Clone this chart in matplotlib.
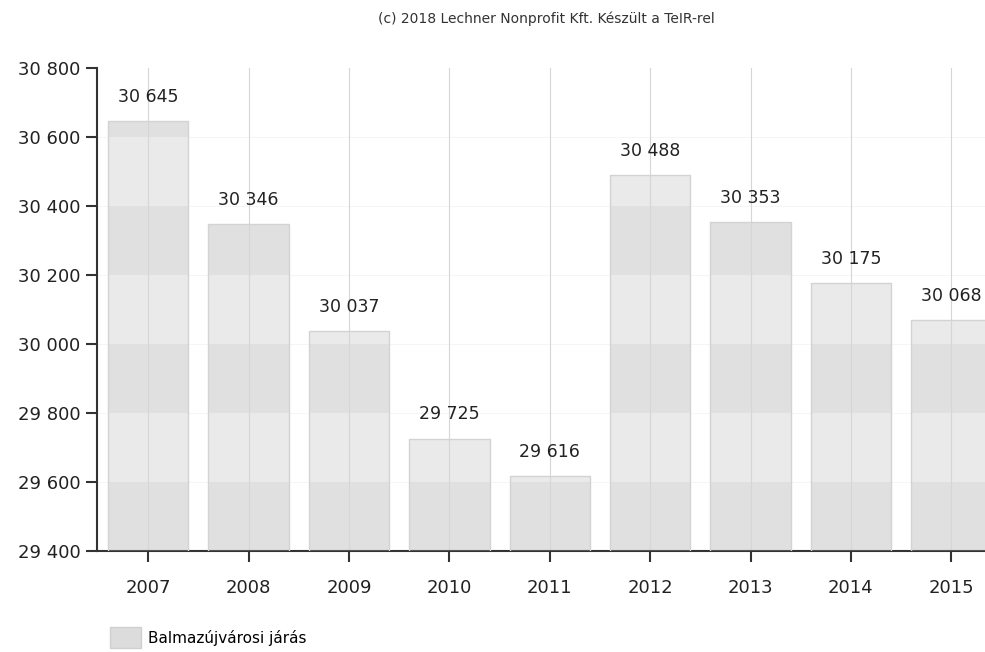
import numpy as np
import matplotlib.pyplot as plt
from matplotlib.patches import Patch

# adatok
evek = ['2007', '2008', '2009', '2010', '2011', '2012', '2013', '2014', '2015']
nepesseg = [30645, 30346, 30037, 29725, 29616, 30488, 30353, 30175, 30068]
y_min, y_max, lepes = 29400, 30800, 200
cim = '(c) 2018 Lechner Nonprofit Kft. Készült a TeIR-rel'
jelmagyarazat = 'Balmazújvárosi járás'

fig = plt.figure(figsize=(9.85, 6.52), dpi=100)
ax = fig.add_axes([0.0985, 0.155, 0.905, 0.741])

x = np.arange(len(evek))
szelesseg = 0.8

# oszlopok savokra bontva (a hatter savjai latszanak az oszlopokon)
savok = np.arange(y_min, y_max, lepes)
for i, also in enumerate(savok):
    szin = '#e0e0e0' if i % 2 == 0 else '#eaeaea'
    mag = np.clip(np.array(nepesseg) - also, 0, lepes)
    ax.bar(x, mag, bottom=also, width=szelesseg, color=szin, edgecolor='none', zorder=2)

# oszlop keret
ax.bar(x, np.array(nepesseg) - y_min, bottom=y_min, width=szelesseg,
       facecolor='none', edgecolor='#d3d3d3', linewidth=1, zorder=3)

# halvany racs
for xi in x:
    ax.axvline(xi, color='#d6d6d6', linewidth=0.8, zorder=2.5)
for yi in savok[1:]:
    ax.axhline(yi, color='#f4f4f4', linewidth=0.6, zorder=1)

# ertekek
for xi, v in zip(x, nepesseg):
    ax.text(xi, v + 45, f'{v:,}'.replace(',', ' '), ha='center', va='bottom',
            fontsize=12.5, color='#222222', zorder=4)

ax.set_ylim(y_min, y_max)
ax.set_xlim(-0.51, 8.37)
ax.set_yticks(np.arange(y_min, y_max + 1, lepes))
ax.set_yticklabels([f'{t:,}'.replace(',', ' ') for t in np.arange(y_min, y_max + 1, lepes)])
ax.set_xticks(x)
ax.set_xticklabels(evek)

for s in ['top', 'right']:
    ax.spines[s].set_visible(False)
for s in ['left', 'bottom']:
    ax.spines[s].set_color('#333333')
    ax.spines[s].set_linewidth(1.5)
ax.tick_params(axis='y', length=8, width=1.5, color='#333333', labelsize=13, labelcolor='#222222', pad=4)
ax.tick_params(axis='x', length=8, width=1.5, color='#333333', labelsize=13, labelcolor='#222222', pad=12)

fig.text(0.555, 0.972, cim, ha='center', va='center', fontsize=10, color='#333333')

fig.legend(handles=[Patch(facecolor='#dcdcdc', edgecolor='#d0d0d0')], labels=[jelmagyarazat],
           loc='center left', bbox_to_anchor=(0.098, 0.022), frameon=False,
           fontsize=11, handlelength=2.0, handleheight=1.7, handletextpad=0.5)

plt.savefig('out.png', dpi=100)
